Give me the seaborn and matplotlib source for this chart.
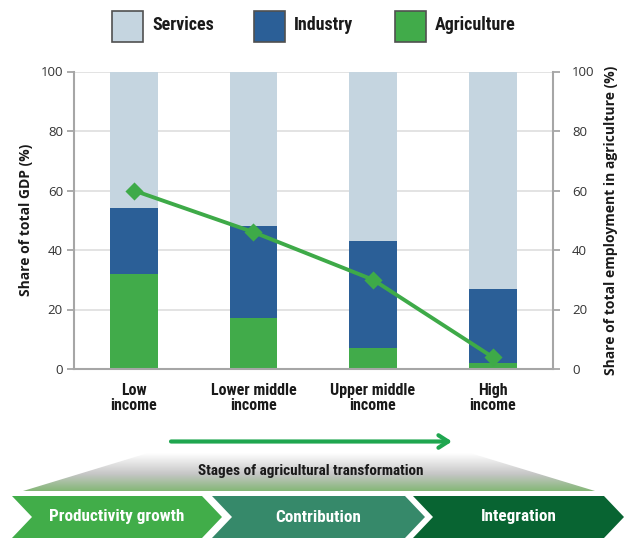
import numpy as np
import pandas as pd
import matplotlib
matplotlib.use("Agg")
import matplotlib.pyplot as plt
import seaborn as sns
from matplotlib.patches import Rectangle, Polygon
from matplotlib.colors import LinearSegmentedColormap
from matplotlib import font_manager

# ---------------- data ----------------
categories = ["Low\nincome", "Lower middle\nincome", "Upper middle\nincome", "High\nincome"]
agriculture = [32, 17, 7, 2]
industry = [22, 31, 36, 25]
services = [46, 52, 57, 73]
employment_agri = [60, 46, 30, 4]
yticks = [0, 20, 40, 60, 80, 100]
legend_labels = ["Services", "Industry", "Agriculture"]
stage_labels = ["Productivity growth", "Contribution", "Integration"]
stage_title = "Stages of agricultural transformation"
ylabel_left = "Share of total GDP (%)"
ylabel_right = "Share of total employment in agriculture (%)"

c_serv = "#C5D5E0"
c_ind = "#2B5F97"
c_agri = "#41AB4A"
c_line = "#3EAA48"
stage_colors = ["#41AD49", "#36896A", "#086432"]

sns.set_style("white")
avail = {f.name for f in font_manager.fontManager.ttflist}
def pick(names):
    for n in names:
        if n in avail:
            return n
    return "DejaVu Sans"
narrow = pick(["Liberation Sans Narrow", "Roboto Condensed", "Open Sans Condensed", "Roboto"])
regular = pick(["Open Sans", "Noto Sans", "DejaVu Sans"])
plt.rcParams["font.family"] = [regular, "DejaVu Sans"]

W, H = 627, 539
fig = plt.figure(figsize=(W / 100, H / 100), dpi=100)

def fx(px):
    return px / W
def fy(py):
    return 1 - py / H

L, R, T, B = 74, 552.5, 71.5, 369
ax = fig.add_axes([fx(L), fy(B), fx(R) - fx(L), fy(T) - fy(B)])

df = pd.DataFrame({"cat": categories, "agri": agriculture, "ind": industry, "serv": services})
df["top_ind"] = df["agri"] + df["ind"]
df["top_serv"] = df["top_ind"] + df["serv"]

for col, c in [("top_serv", c_serv), ("top_ind", c_ind), ("agri", c_agri)]:
    sns.barplot(data=df, x="cat", y=col, color=c, width=0.4, linewidth=0,
                saturation=1, ax=ax, zorder=2)

ax.set_xlim(-0.5, 3.5)
ax.set_ylim(0, 100)
ax.set_yticks(yticks)
ax.set_axisbelow(True)
ax.grid(axis="y", color="#E3E3E3", linewidth=1.4, zorder=0)
ax.grid(axis="x", visible=False)
ax.set_xticks([-0.5, 0.5, 1.5, 2.5, 3.5])
ax.set_xticklabels([])
ax.set_xticks(range(len(categories)), minor=True)
ax.set_xticklabels(categories, minor=True, fontfamily=narrow, fontweight="bold",
                   fontsize=11.5, color="#1a1a1a", linespacing=1.0)
ax.tick_params(axis="x", which="major", length=5, width=1.3, color="#A6A6A6", direction="out")
ax.tick_params(axis="x", which="minor", length=0, pad=10)
ax.tick_params(axis="y", length=5, width=1.3, color="#A6A6A6", direction="out",
               labelsize=9.5, labelcolor="#333333", pad=3)
ax.set_xlabel("")
ax.set_ylabel(ylabel_left, fontweight="bold", fontsize=10, color="#1a1a1a", labelpad=5)
for s in ["left", "bottom", "right"]:
    ax.spines[s].set_color("#A6A6A6")
    ax.spines[s].set_linewidth(1.5)
ax.spines["top"].set_visible(False)

ax2 = ax.twinx()
sns.pointplot(x=list(range(len(categories))), y=employment_agri, native_scale=True,
              color=c_line, markers="D", markersize=7.5, linewidth=2.8, ax=ax2, zorder=5)
ax2.set_xlim(-0.5, 3.5)
ax2.set_ylim(0, 100)
ax2.set_yticks(yticks)
ax2.tick_params(axis="y", length=5, width=1.3, color="#A6A6A6", direction="out",
                labelsize=9.5, labelcolor="#333333", pad=9)
ax2.set_ylabel(ylabel_right, fontweight="bold", fontsize=10, color="#1a1a1a", labelpad=7)
for s in ["left", "bottom", "right", "top"]:
    ax2.spines[s].set_visible(False)
ax2.grid(False)

# ---------------- overlay (legend + stages) ----------------
ov = fig.add_axes([0, 0, 1, 1], zorder=10)
ov.set_xlim(0, W)
ov.set_ylim(H, 0)
ov.axis("off")
ov.patch.set_alpha(0)

leg_colors = [c_serv, c_ind, c_agri]
leg_x = [112, 254, 395]
for lx, c, lab in zip(leg_x, leg_colors, legend_labels):
    ov.add_patch(Rectangle((lx, 11), 31, 31, facecolor=c, edgecolor="#505050", linewidth=1.2))
    ov.text(lx + 40, 25, lab, fontfamily=narrow, fontweight="bold", fontsize=13,
            color="#1a1a1a", va="center", ha="left")

# arrow
ov.annotate("", xy=(452, 441.5), xytext=(171, 441.5),
            arrowprops=dict(arrowstyle="->,head_length=0.7,head_width=0.45",
                            color="#1FA64F", lw=3, shrinkA=0, shrinkB=0))

# gradient trapezoid
trap = Polygon([(148, 453), (470, 453), (595, 491), (23, 491)], closed=True,
               facecolor="none", edgecolor="none")
ov.add_patch(trap)
cmap = LinearSegmentedColormap.from_list("g", [(0, "#FFFFFF"), (0.55, "#C6C6C6"), (1, "#84B777")])
grad = np.linspace(0, 1, 200).reshape(-1, 1)
im = ov.imshow(grad, cmap=cmap, aspect="auto", extent=[23, 595, 491, 453], origin="upper", zorder=1)
im.set_clip_path(trap)
ov.text(311, 471, stage_title, fontfamily=narrow, fontweight="bold", fontsize=11,
        color="#1a1a1a", ha="center", va="center", zorder=3)

# chevrons
top, bot, mid = 496, 538, 517
chev = [(12, 202), (212, 405), (413, 604)]
notch = 20
for (x0, x1), c, lab in zip(chev, stage_colors, stage_labels):
    pts = [(x0, top), (x1, top), (x1 + notch, mid), (x1, bot), (x0, bot), (x0 + notch, mid)]
    ov.add_patch(Polygon(pts, closed=True, facecolor=c, edgecolor="none", zorder=2))
    ov.text((x0 + x1) / 2 + notch / 2, mid, lab, fontfamily=narrow, fontweight="bold",
            fontsize=12.3, color="white", ha="center", va="center", zorder=3)

fig.savefig("out.png", dpi=100)
